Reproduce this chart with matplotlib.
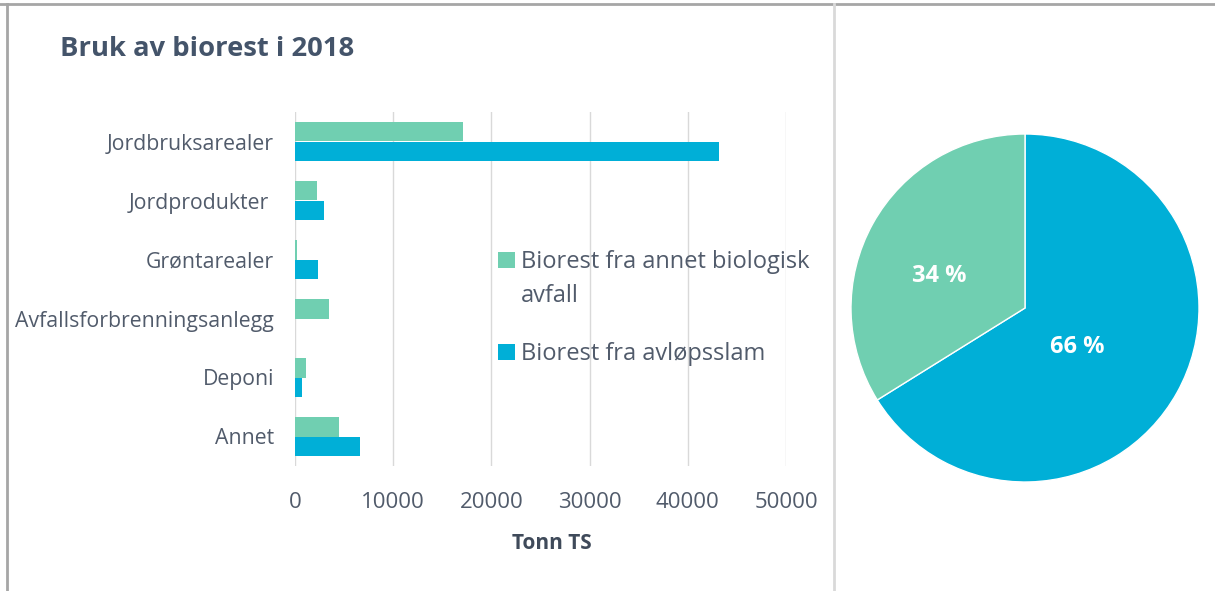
import numpy as np
import matplotlib
matplotlib.use("Agg")
import matplotlib.pyplot as plt
from matplotlib.lines import Line2D

plt.rcParams['font.family'] = ['Open Sans', 'DejaVu Sans']

# data (tonn TS)
categories = ["Jordbruksarealer", "Jordprodukter ", "Grøntarealer",
              "Avfallsforbrenningsanlegg", "Deponi", "Annet"]
annet_bio = [17100, 2200, 170, 3500, 1100, 4500]
avlopsslam = [43200, 3000, 2300, 0, 700, 6600]
series_names = ["Biorest fra annet biologisk\navfall", "Biorest fra avløpsslam"]
xticks = [0, 10000, 20000, 30000, 40000, 50000]

green = "#70CFB1"
blue = "#00AFD7"
text_col = "#515B6B"
title_col = "#44546A"

fig = plt.figure(figsize=(12.15, 5.91), dpi=100)

# bar chart
ax = fig.add_axes([295 / 1215, 1 - 466 / 591, 491 / 1215, 354 / 591])
y = np.arange(len(categories))
h = 0.33
ax.barh(y - h / 2, annet_bio, height=h, color=green, label=series_names[0], zorder=2)
ax.barh(y + h / 2, avlopsslam, height=h, color=blue, label=series_names[1], zorder=2)
ax.set_ylim(len(categories) - 0.5, -0.5)
ax.set_xlim(0, 50000)
ax.set_yticks(y)
ax.set_yticklabels(categories, fontsize=15.3, color=text_col)
ax.set_xticks(xticks)
ax.set_xticklabels([str(v) for v in xticks], fontsize=16, color=text_col)
ax.tick_params(axis='y', length=0, pad=15)
ax.tick_params(axis='x', length=0, pad=19)
ax.grid(axis='x', color="#D9D9D9", linewidth=1, zorder=0)
for s in ax.spines.values():
    s.set_visible(False)
ax.set_xlabel("Tonn TS", fontsize=15, fontweight='bold', color="#3F4A5A")
ax.xaxis.set_label_coords(0.523, -0.19)

leg = ax.legend(loc='upper left', bbox_to_anchor=(477 / 1215, 1 - 229 / 591),
                bbox_transform=fig.transFigure, frameon=False, fontsize=17,
                labelcolor=text_col, handlelength=0.7, handleheight=0.7,
                handletextpad=0.25, labelspacing=1.45)
for t in leg.get_texts():
    t.set_linespacing(1.55)
# line the two-line entry's square up with its first line, as in the original
first = leg.legend_handles[0]
first.set_y(first.get_y() + 14.4)

fig.text(60 / 1215, 1 - 49 / 591, "Bruk av biorest i 2018", fontsize=19.7,
         fontweight='bold', color=title_col, va='center')

# pie chart of the totals
totals = [sum(avlopsslam), sum(annet_bio)]
label_pos = [(0.30, -0.225), (-0.49, 0.185)]
r = 174
pax = fig.add_axes([(1025 - r) / 1215, 1 - (308 + r) / 591, 2 * r / 1215, 2 * r / 591])
wedges, texts, autotexts = pax.pie(
    totals, colors=[blue, green], startangle=90, counterclock=False,
    autopct=lambda p: f"{p:.0f} %", pctdistance=0.5,
    wedgeprops=dict(edgecolor='white', linewidth=1),
    textprops=dict(color='white', fontsize=17, fontweight='bold'))
for t, pos in zip(autotexts, label_pos):
    t.set_position(pos)
pax.set_xlim(-1, 1)
pax.set_ylim(-1, 1)
pax.set_aspect('equal')

# panel borders
fig.add_artist(Line2D([0, 1], [1 - 4 / 591, 1 - 4 / 591], color="#A6A6A6", linewidth=2))
fig.add_artist(Line2D([7 / 1215, 7 / 1215], [0, 1 - 4 / 591], color="#A6A6A6", linewidth=2))
fig.add_artist(Line2D([834 / 1215, 834 / 1215], [0, 1 - 4 / 591], color="#D9D9D9", linewidth=2))

fig.savefig("out.png", dpi=100)
